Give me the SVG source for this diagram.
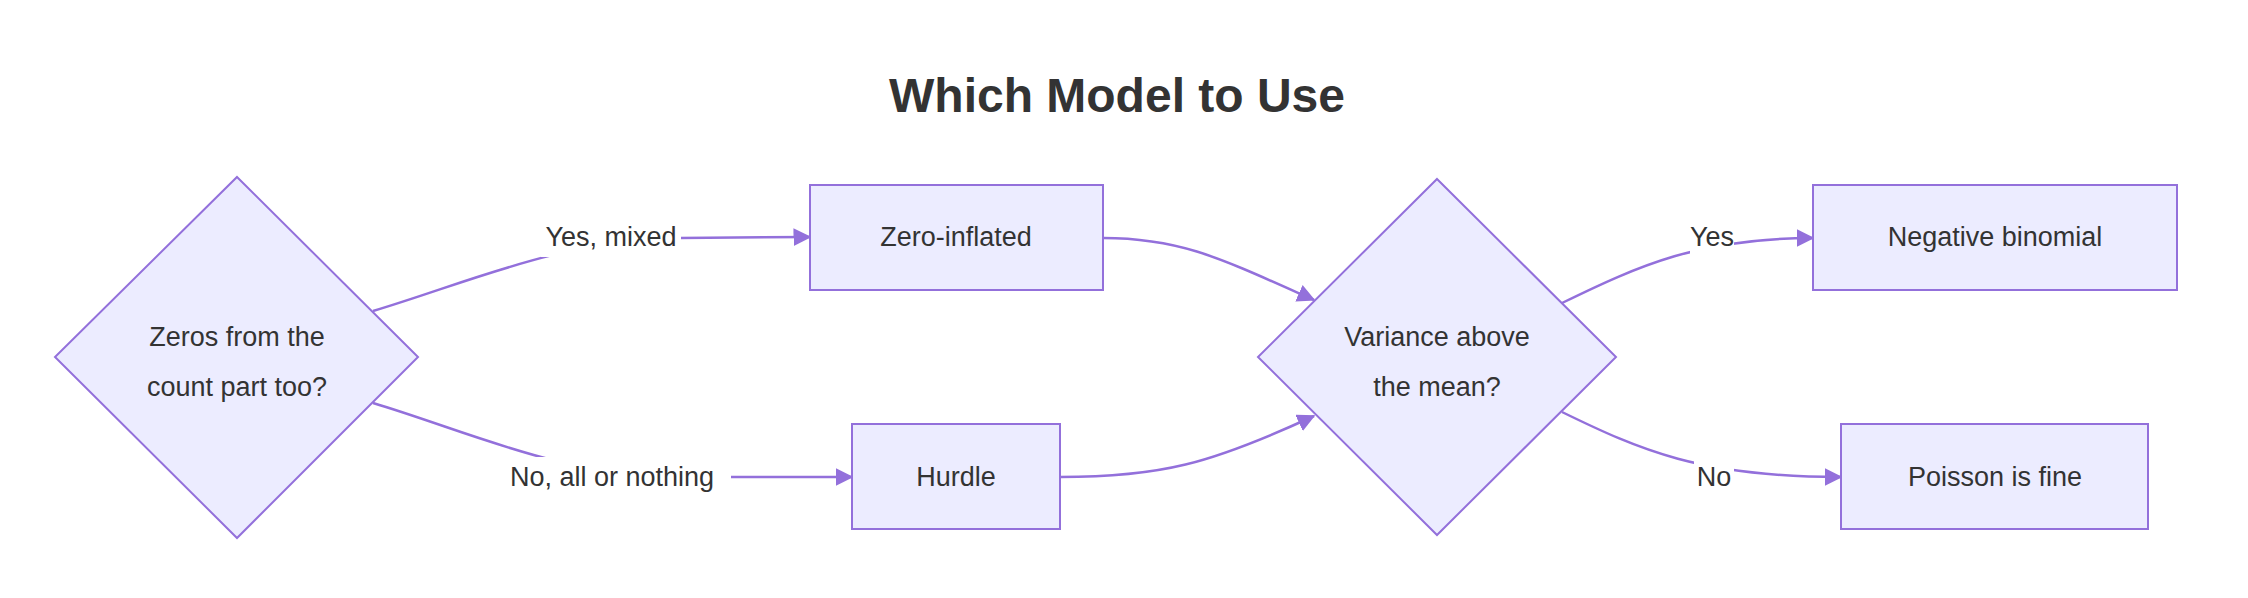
<svg xmlns="http://www.w3.org/2000/svg" width="2248" height="598" viewBox="0 0 2248 598">
<style>
.n{fill:#ECECFF;stroke:#9370DB;stroke-width:2}
.e{fill:none;stroke:#9370DB;stroke-width:2.5}
text{font-family:"Liberation Sans",Arial,sans-serif;font-size:27px;fill:#333;text-anchor:middle;dominant-baseline:central}
.t{font-size:48px;font-weight:bold}
.lb{fill:#fff}
</style>
<defs><marker id="a" viewBox="0 0 10 10" refX="9" refY="5" markerWidth="7" markerHeight="7" markerUnits="userSpaceOnUse" orient="auto" style="overflow:visible"><path d="M0,0L10,5L0,10z" fill="#9370DB" transform="scale(2)translate(-5,-2.5)"/></marker>
<marker id="m" viewBox="0 0 12 12" refX="11" refY="6" markerWidth="18" markerHeight="18" markerUnits="userSpaceOnUse" orient="auto"><path d="M0,0L12,6L0,12z" fill="#9370DB"/></marker></defs>
<rect width="2248" height="598" fill="#fff"/>
<text class="t" x="1117" y="95">Which Model to Use</text>
<g id="edges">
<path class="e" marker-end="url(#m)" d="M373,311 C470,282 560,240 680,238 L810,237"/>
<path class="e" marker-end="url(#m)" d="M373,403 C470,432 560,476 680,477 L852,477"/>
<path class="e" marker-end="url(#m)" d="M1103,238 C1180,238 1220,258 1314,300"/>
<path class="e" marker-end="url(#m)" d="M1060,477 C1160,477 1210,464 1314,416"/>
<path class="e" marker-end="url(#m)" d="M1562,303 C1640,265 1700,238 1813,238"/>
<path class="e" marker-end="url(#m)" d="M1562,412 C1640,450 1700,477 1841,477"/>
<rect class="lb" x="541" y="217" width="140" height="40"/><text x="611" y="237">Yes, mixed</text>
<rect class="lb" x="493" y="457" width="238" height="40"/><text x="612" y="477">No, all or nothing</text>
<rect class="lb" x="1690" y="217" width="44" height="40"/><text x="1712" y="237">Yes</text>
<rect class="lb" x="1694" y="457" width="40" height="40"/><text x="1714" y="477">No</text>
</g>
<g id="d1"><path class="n" d="M237,177L418,357L237,538L55,357Z"/><text x="237" y="337">Zeros from the</text><text x="237" y="387">count part too?</text></g>
<g id="zi"><rect class="n" x="810" y="185" width="293" height="105"/><text x="956" y="237">Zero-inflated</text></g>
<g id="hu"><rect class="n" x="852" y="424" width="208" height="105"/><text x="956" y="477">Hurdle</text></g>
<g id="d2"><path class="n" d="M1437,179L1616,357L1437,535L1258,357Z"/><text x="1437" y="337">Variance above</text><text x="1437" y="387">the mean?</text></g>
<g id="nb"><rect class="n" x="1813" y="185" width="364" height="105"/><text x="1995" y="237">Negative binomial</text></g>
<g id="po"><rect class="n" x="1841" y="424" width="307" height="105"/><text x="1995" y="477">Poisson is fine</text></g>
</svg>
